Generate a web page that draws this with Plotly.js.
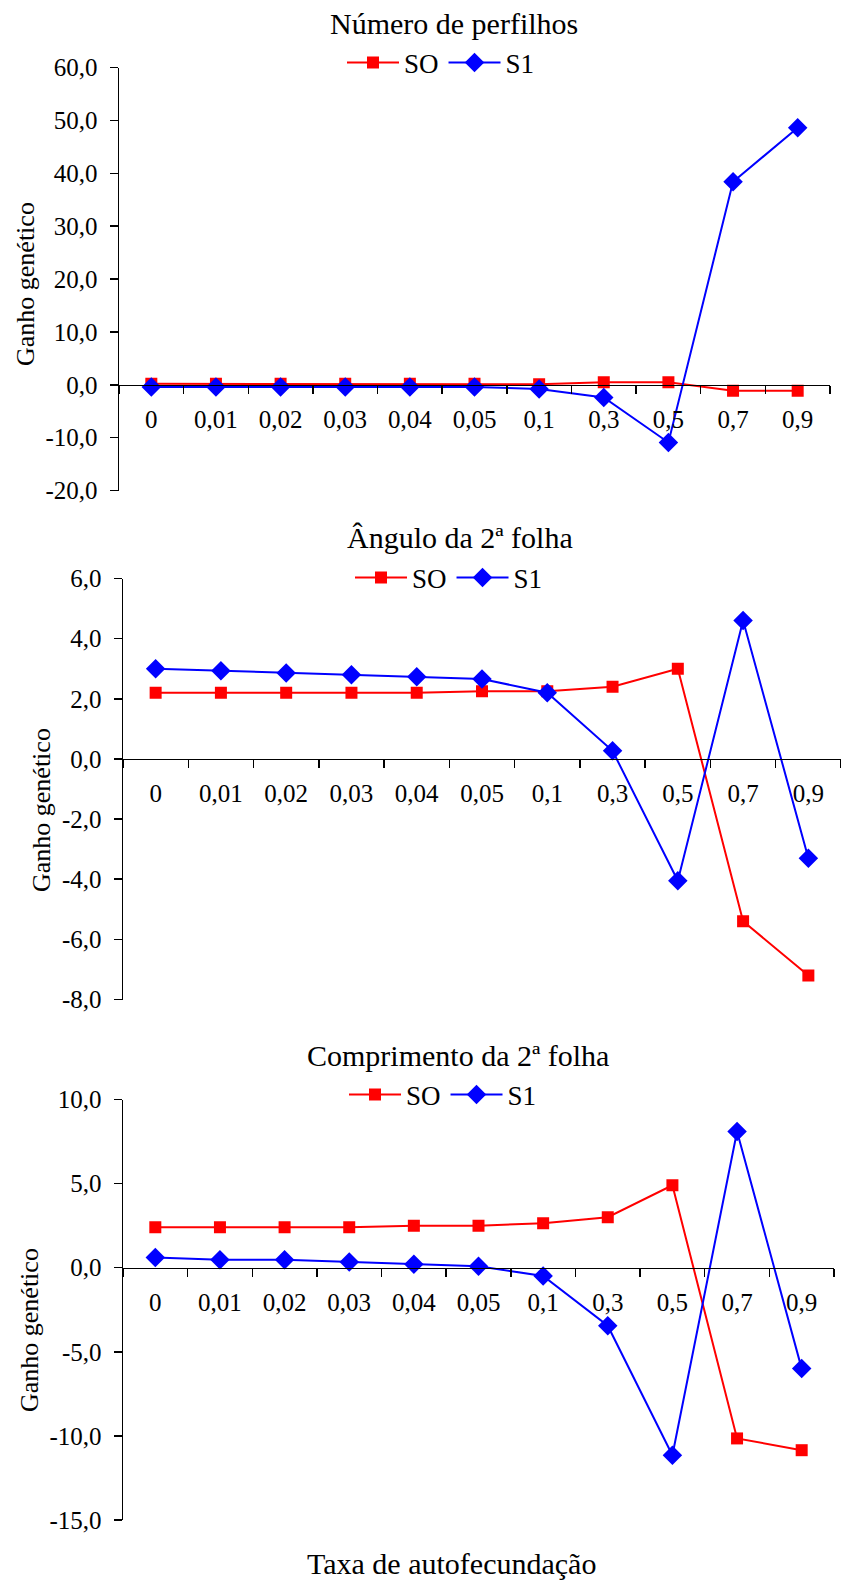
<!DOCTYPE html>
<html>
<head>
<meta charset="utf-8">
<script src="https://cdn.plot.ly/plotly-3.0.1.min.js"></script>
<style>body{margin:0;background:#fff}</style>
</head>
<body>
<div id="chart" style="width:841px;height:1584px"></div>
<script>
// ---------- data ----------
const categories = ['0','0,01','0,02','0,03','0,04','0,05','0,1','0,3','0,5','0,7','0,9'];

const perfilhosSO = [0.2, 0.2, 0.2, 0.2, 0.2, 0.2, 0.1, 0.5, 0.5, -1.1, -1.1];
const perfilhosS1 = [-0.4, -0.4, -0.4, -0.4, -0.4, -0.4, -0.8, -2.4, -10.9, 38.4, 48.6];

const anguloSO = [2.2, 2.2, 2.2, 2.2, 2.2, 2.25, 2.25, 2.4, 3.0, -5.4, -7.2];
const anguloS1 = [3.0, 2.93, 2.86, 2.8, 2.73, 2.66, 2.2, 0.27, -4.05, 4.6, -3.3];

const comprimentoSO = [2.4, 2.4, 2.4, 2.4, 2.5, 2.5, 2.65, 3.0, 4.9, -10.15, -10.85];
const comprimentoS1 = [0.6, 0.47, 0.47, 0.34, 0.21, 0.09, -0.49, -3.45, -11.15, 8.1, -6.0];

const panelTitles = ['Número de perfilhos', 'Ângulo da 2ª folha', 'Comprimento da 2ª folha'];
const seriesNames = ['SO', 'S1'];

const yTicks1 = [-20, -10, 0, 10, 20, 30, 40, 50, 60];
const yTickText1 = ['-20,0', '-10,0', '0,0', '10,0', '20,0', '30,0', '40,0', '50,0', '60,0'];
const yTicks2 = [-8, -6, -4, -2, 0, 2, 4, 6];
const yTickText2 = ['-8,0', '-6,0', '-4,0', '-2,0', '0,0', '2,0', '4,0', '6,0'];
const yTicks3 = [-15, -10, -5, 0, 5, 10];
const yTickText3 = ['-15,0', '-10,0', '-5,0', '0,0', '5,0', '10,0'];

const yTitle = 'Ganho genético';
const xTitle = 'Taxa de autofecundação';

// ---------- layout geometry (pixels) ----------
const W = 841, H = 1584;
const FONT = 'Liberation Serif, Times New Roman, serif';
const px = p => p / W;
const py = p => 1 - p / H;

const panels = [
  {so: perfilhosSO, s1: perfilhosS1, title: panelTitles[0], yt: yTicks1, ytt: yTickText1,
   range: [-20, 60], left: 119, right: 830, top: 67.5, bottom: 490.6,
   titleX: 454, titleY: 24, legX: 350, legY: 63, yTitleX: 25, yTitleY: 284},
  {so: anguloSO, s1: anguloS1, title: panelTitles[1], yt: yTicks2, ytt: yTickText2,
   range: [-8, 6], left: 123, right: 841, top: 578.5, bottom: 999.5,
   titleX: 460, titleY: 537, legX: 358, legY: 578, yTitleX: 41, yTitleY: 810},
  {so: comprimentoSO, s1: comprimentoS1, title: panelTitles[2], yt: yTicks3, ytt: yTickText3,
   range: [-15, 10], left: 123, right: 834, top: 1099.5, bottom: 1520,
   titleX: 458, titleY: 1055, legX: 352, legY: 1095, yTitleX: 29, yTitleY: 1330}
];

const data = [];
const layout = {
  width: W, height: H,
  margin: {l: 0, r: 0, t: 0, b: 0},
  paper_bgcolor: '#fff', plot_bgcolor: '#fff',
  font: {family: FONT, size: 24, color: '#000'},
  annotations: [],
  showlegend: true
};

panels.forEach((p, i) => {
  const n = i === 0 ? '' : String(i + 1);
  const xa = 'x' + n, ya = 'y' + n;
  const leg = 'legend' + n;
  data.push({
    type: 'scatter', mode: 'lines+markers', x: categories, y: p.so, name: seriesNames[0],
    xaxis: xa, yaxis: ya, legend: leg,
    line: {color: '#FF0000', width: 2},
    marker: {symbol: 'square', size: 12, color: '#FF0000'}
  });
  data.push({
    type: 'scatter', mode: 'lines+markers', x: categories, y: p.s1, name: seriesNames[1],
    xaxis: xa, yaxis: ya, legend: leg,
    line: {color: '#0000FF', width: 2},
    marker: {symbol: 'diamond', size: 15, color: '#0000FF'}
  });
  const yDom = [py(p.bottom), py(p.top)];
  const zeroPos = yDom[0] + (0 - p.range[0]) / (p.range[1] - p.range[0]) * (yDom[1] - yDom[0]);
  layout['xaxis' + n] = {
    type: 'category', domain: [px(p.left), px(p.right)], anchor: 'free', position: zeroPos,
    range: [-0.5, categories.length - 0.5],
    showline: true, linecolor: '#000', linewidth: 1.5,
    ticks: 'outside', tickson: 'boundaries', ticklen: 8, tickwidth: 1.5, tickcolor: '#000',
    ticklabelstandoff: 12,
    tickfont: {family: FONT, size: 25, color: '#000'},
    showgrid: false, zeroline: false, fixedrange: true
  };
  layout['yaxis' + n] = {
    domain: yDom, anchor: xa, range: p.range,
    tickvals: p.yt, ticktext: p.ytt,
    showline: true, linecolor: '#000', linewidth: 1.5,
    ticks: 'outside', ticklen: 8, tickwidth: 1.5, tickcolor: '#000',
    ticklabelstandoff: 7,
    tickfont: {family: FONT, size: 25, color: '#000'},
    showgrid: false, zeroline: false, fixedrange: true
  };
  layout[leg] = {
    orientation: 'h', x: px(p.legX - 8), xanchor: 'left', y: py(p.legY), yanchor: 'middle',
    bgcolor: 'rgba(0,0,0,0)', borderwidth: 0,
    font: {family: FONT, size: 27, color: '#000'},
    itemwidth: 52, traceorder: 'normal'
  };
  layout.annotations.push({
    xref: 'paper', yref: 'paper', x: px(p.titleX), y: py(p.titleY),
    xanchor: 'center', yanchor: 'middle', showarrow: false,
    text: p.title, font: {family: FONT, size: 30, color: '#000'}
  });
  layout.annotations.push({
    xref: 'paper', yref: 'paper', x: px(p.yTitleX), y: py(p.yTitleY),
    xanchor: 'center', yanchor: 'middle', showarrow: false, textangle: -90,
    text: yTitle, font: {family: FONT, size: 26, color: '#000'}
  });
});

layout.annotations.push({
  xref: 'paper', yref: 'paper', x: px(452), y: py(1563),
  xanchor: 'center', yanchor: 'middle', showarrow: false,
  text: xTitle, font: {family: FONT, size: 30, color: '#000'}
});

Plotly.newPlot('chart', data, layout, {displayModeBar: false, staticPlot: true});
</script>
</body>
</html>
